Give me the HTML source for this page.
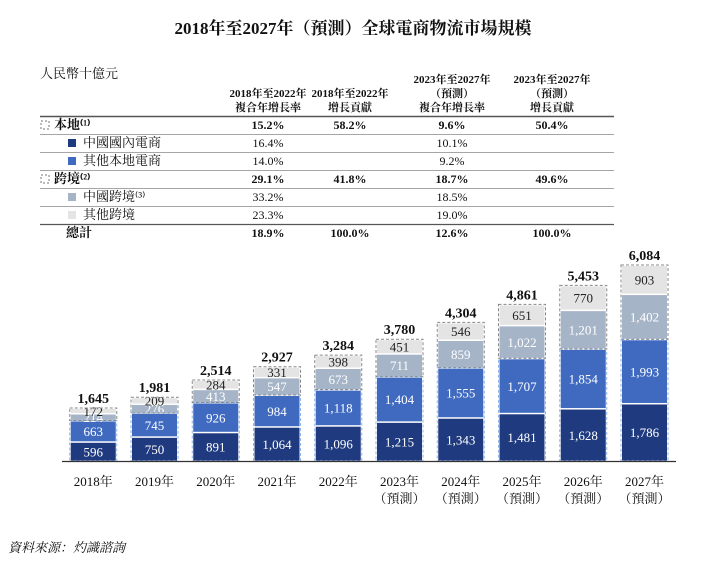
<!DOCTYPE html>
<html><head><meta charset="utf-8"><style>
body{margin:0;background:#fff;width:706px;height:560px;overflow:hidden;font-family:"Liberation Serif","Noto Serif CJK SC",serif;}
svg text{font-family:"Liberation Serif","Noto Serif CJK SC",serif;}
</style></head><body>
<svg width="706" height="560" xmlns="http://www.w3.org/2000/svg">
<text x="353" y="34" text-anchor="middle" font-size="17" font-weight="bold" fill="#111">2018年至2027年（預測）全球電商物流市場規模</text>
<g id="table"></g>
<g id="bars"></g>
<text x="8" y="552" font-size="13" font-style="italic" fill="#111">資料來源：灼識諮詢</text>
</svg>
<script>
const years=["2018年","2019年","2020年","2021年","2022年","2023年","2024年","2025年","2026年","2027年"];
const domestic=[596,750,891,1064,1096,1215,1343,1481,1628,1786];
const otherLocal=[663,745,926,984,1118,1404,1555,1707,1854,1993];
const chinaCross=[214,276,413,547,673,711,859,1022,1201,1402];
const otherCross=[172,209,284,331,398,451,546,651,770,903];
const totals=[1645,1981,2514,2927,3284,3780,4304,4861,5453,6084];
const NS="http://www.w3.org/2000/svg";
function mk(tag,attrs,parent,txt){const e=document.createElementNS(NS,tag);for(const k in attrs)e.setAttribute(k,attrs[k]);if(txt!==undefined)e.textContent=txt;parent.appendChild(e);return e;}
const fmt=v=>v.toLocaleString('en-US');
const base=461,scale=196/6084,bw=45;
const cx=i=>399.5+(i-5)*61.25;
const yS=v=>v*scale;
const g=document.getElementById('bars');
const series=[[domestic,"#1f3a7e","#fff","domestic"],[otherLocal,"#3f6ac0","#fff","other-local"],[chinaCross,"#a6b4c8","#fff","china-cross"],[otherCross,"#e4e4e4","#222","other-cross"]];
years.forEach((yr,i)=>{
 let acc=0;const x=cx(i)-bw/2;
 series.forEach(([arr,col,tc,nm])=>{
  const h=yS(arr[i]);const y=base-yS(acc)-h;
  const r=mk('rect',{x:x,y:y+1,width:bw,height:Math.max(h-1.5,0.5),fill:col},g);
  
  
  const t=mk('text',{x:cx(i),y:y+h/2+5,'text-anchor':'middle','font-size':13,fill:tc},g,fmt(arr[i]));
  
  
  acc+=arr[i];
 });
 const hl=yS(domestic[i]+otherLocal[i]);
 mk('rect',{x:x-1,y:base-hl,width:bw+2,height:hl,fill:'none',stroke:'#8fb4e8','stroke-width':1,'stroke-dasharray':'3,2'},g);
 const hc=yS(chinaCross[i]+otherCross[i]);
 mk('rect',{x:x-1,y:base-hl-hc,width:bw+2,height:hc,fill:'none',stroke:'#888','stroke-width':1,'stroke-dasharray':'3,2'},g);
 const tt=mk('text',{x:cx(i),y:base-yS(totals[i])-5,'text-anchor':'middle','font-size':14,'font-weight':'bold',fill:'#111'},g,fmt(totals[i]));
 
 
 const yl=mk('text',{x:cx(i),y:486,'text-anchor':'middle','font-size':13,fill:'#111'},g,yr);
 
 
 if(i>=5){const p=mk('text',{x:cx(i),y:503,'text-anchor':'middle','font-size':13,fill:'#111'},g,'（預測）');
 
 }
});
mk('line',{x1:62,y1:base+0.5,x2:676,y2:base+0.5,stroke:'#333','stroke-width':1.2},g);

const tg=document.getElementById('table');
mk('text',{x:40,y:78,'font-size':13,'font-family':'"Liberation Sans","Noto Sans CJK SC",sans-serif',fill:'#111'},tg,'人民幣十億元');
const colX=[268,350,452,552];
const heads=[["2018年至2022年","複合年增長率"],["2018年至2022年","增長貢獻"],["2023年至2027年","（預測）","複合年增長率"],["2023年至2027年","（預測）","增長貢獻"]];
heads.forEach((h,c)=>{const n=h.length;h.forEach((s,k)=>{mk('text',{x:colX[c],y:111-(n-1-k)*14,'text-anchor':'middle','font-size':11,'font-weight':'bold',fill:'#111'},tg,s);});});
const rows=[["本地⁽¹⁾",null,"15.2%","58.2%","9.6%","50.4%",true],["中國國內電商","#1f3a7e","16.4%","","10.1%","",false],["其他本地電商","#3f6ac0","14.0%","","9.2%","",false],["跨境⁽²⁾",null,"29.1%","41.8%","18.7%","49.6%",true],["中國跨境⁽³⁾","#a6b4c8","33.2%","","18.5%","",false],["其他跨境","#e4e4e4","23.3%","","19.0%","",false],["總計",null,"18.9%","100.0%","12.6%","100.0%",true]];
mk('line',{x1:40,y1:116.5,x2:614,y2:116.5,stroke:'#555','stroke-width':1.5},tg);
rows.forEach((r,k)=>{
 const y=129+k*18;
 const isTot=k===6;
 let tx=70;
 if(r[1]){mk('rect',{x:68,y:y-8,width:8,height:8,fill:r[1]},tg);tx=83;}
 else if(!isTot){mk('rect',{x:41,y:y-8,width:8,height:8,fill:'none',stroke:'#777','stroke-dasharray':'2,2'},tg);tx=54;}
 else tx=66;
 mk('text',{x:tx,y:y,'font-size':13,'font-weight':r[6]?'bold':'normal','font-family':'"Liberation Sans","Noto Sans CJK SC",sans-serif',fill:'#111'},tg,r[0]);
 for(let c=0;c<4;c++) if(r[c+2]) mk('text',{x:colX[c],y:y,'text-anchor':'middle','font-size':12,'font-weight':r[6]?'bold':'normal',fill:'#111'},tg,r[c+2]);
 if(k<6) mk('line',{x1:40,y1:y+5.5,x2:614,y2:y+5.5,stroke:k==5?'#555':'#888','stroke-width':k==5?1.3:0.8},tg);
});
</script>
</body></html>
